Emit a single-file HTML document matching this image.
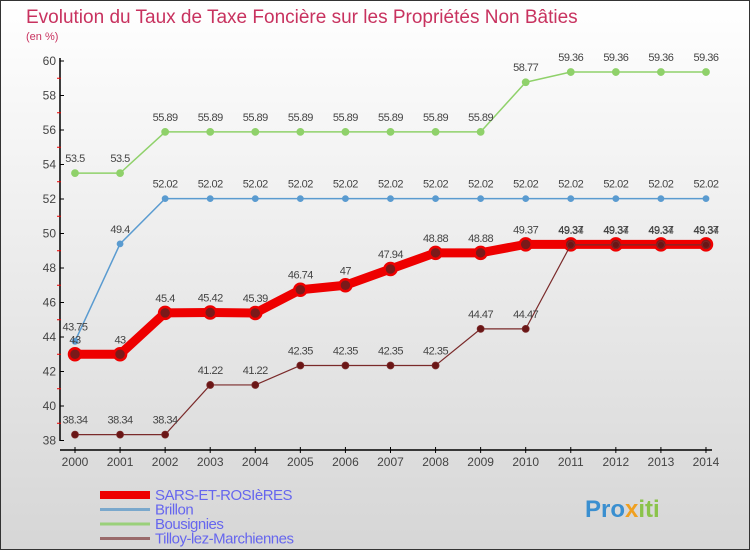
<!DOCTYPE html>
<html><head><meta charset="utf-8"><style>
body{margin:0}
#c{width:750px;height:550px;position:relative;overflow:hidden;font-family:"Liberation Sans",sans-serif}
</style></head><body>
<div id="c">
<svg id="s" width="750" height="550" xmlns="http://www.w3.org/2000/svg">
<defs><linearGradient id="bg" x1="0" y1="0" x2="0" y2="1"><stop offset="0" stop-color="#ffffff"/><stop offset="1" stop-color="#d6d6d6"/></linearGradient></defs>
<rect x="0.5" y="0.5" width="749" height="549" fill="url(#bg)" stroke="#333"/>
<text x="26" y="23" font-size="19" fill="#c8325f">Evolution du Taux de Taxe Foncière sur les Propriétés Non Bâties</text>
<text x="26" y="40" font-size="11" fill="#c8325f">(en %)</text>
<g id="axes"></g><g id="series"></g><g id="legend"></g>
<text x="585" y="517" font-size="24" font-weight="bold" fill="#3a8fd0">Pro<tspan fill="#f0a020">x</tspan><tspan fill="#8bc34a">iti</tspan></text>
</svg>
</div>
<script>
const years=[2000,2001,2002,2003,2004,2005,2006,2007,2008,2009,2010,2011,2012,2013,2014];
const yTicks=[38,40,42,44,46,48,50,52,54,56,58,60];
const sars=[43,43,45.4,45.42,45.39,46.74,47,47.94,48.88,48.88,49.37,49.37,49.37,49.37,49.37];
const brillon=[43.75,49.4,52.02,52.02,52.02,52.02,52.02,52.02,52.02,52.02,52.02,52.02,52.02,52.02,52.02];
const bousignies=[53.5,53.5,55.89,55.89,55.89,55.89,55.89,55.89,55.89,55.89,58.77,59.36,59.36,59.36,59.36];
const tilloy=[38.34,38.34,38.34,41.22,41.22,42.35,42.35,42.35,42.35,44.47,44.47,49.34,49.34,49.34,49.34];
const seriesNames=["SARS-ET-ROSIèRES","Brillon","Bousignies","Tilloy-lez-Marchiennes"];
const NS="http://www.w3.org/2000/svg";
const xS=i=>75+i*45.07;
const yS=v=>440.5-(v-38)*(379.5/22);
function mk(tag,attrs,parent){const e=document.createElementNS(NS,tag);for(const k in attrs)e.setAttribute(k,attrs[k]);parent.appendChild(e);return e;}
const ax=document.getElementById('axes');
let l=mk('line',{x1:60,y1:58,x2:60,y2:441,stroke:'#000','stroke-width':1.5},ax);


l=mk('line',{x1:60,y1:450,x2:712,y2:450,stroke:'#000','stroke-width':1.5},ax);


yTicks.forEach(v=>{const y=yS(v);
 mk('line',{x1:60,y1:y,x2:64,y2:y,stroke:'#000'},ax);
 if(v<60)mk('line',{x1:57,y1:yS(v+1),x2:61,y2:yS(v+1),stroke:'#e00'},ax);
 const t=mk('text',{x:56,y:y+4,'text-anchor':'end','font-size':12,fill:'#444'},ax);t.textContent=v;
 
 
});
years.forEach((yr,i)=>{const x=xS(i);
 mk('line',{x1:x,y1:447,x2:x,y2:453,stroke:'#000'},ax);
 const t=mk('text',{x:x,y:466,'text-anchor':'middle','font-size':12,fill:'#444'},ax);t.textContent=yr;
 
 
});
const sg=document.getElementById('series');
function draw(vals,color,w,r,dot,name){
 const g=mk('g',{},sg);
 
 
 mk('polyline',{points:vals.map((v,i)=>xS(i)+','+yS(v)).join(' '),fill:'none',stroke:color,'stroke-width':w,'stroke-linejoin':'round'},g);
 vals.forEach((v,i)=>{const c=mk('circle',{cx:xS(i),cy:yS(v),r:r,fill:dot,stroke:color,'stroke-width':r>4?2.5:0.8},g);
  
  
  const t=mk('text',{x:xS(i),y:yS(v)-11,'text-anchor':'middle','font-size':11,fill:'#444','letter-spacing':'-0.5'},g);t.textContent=v;
  
  
 });
}
draw(bousignies,'#8fd16a',1.5,3.5,'#8fd16a','series-bousignies');
draw(brillon,'#5a9bd0',1.5,3,'#5a9bd0','series-brillon');
draw(sars,'#ee0000',9,6,'#7a1a1a','series-sars');
draw(tilloy,'#7a2a2a',1.2,3.5,'#6a1616','series-tilloy');
const lg=document.getElementById('legend');
const lc=[['#ee0000',8],['#7aa8cc',3],['#9ad07a',3],['#9a6a6a',3]];
seriesNames.forEach((n,i)=>{const y=492+i*14.5;
 const it=mk('g',{},lg);
 
 
 mk('line',{x1:100,y1:y+3,x2:150,y2:y+3,stroke:lc[i][0],'stroke-width':lc[i][1]},it);
 const t=mk('text',{x:155,y:y+8,'font-size':15,fill:'#6666ee','letter-spacing':'-0.5'},it);t.textContent=n;
});
</script>
</body></html>
